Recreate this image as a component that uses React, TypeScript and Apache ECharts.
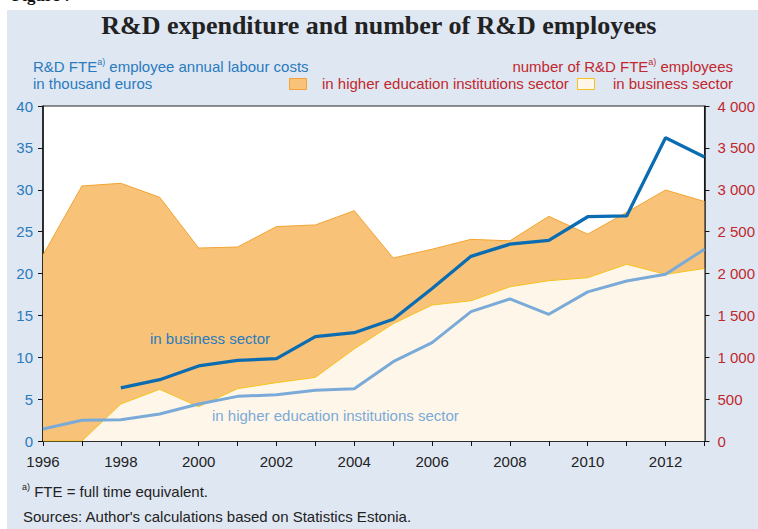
import React, { useEffect, useRef } from 'react';
import * as echarts from 'echarts';

const years = ['1996', '1997', '1998', '1999', '2000', '2001', '2002', '2003', '2004', '2005', '2006', '2007', '2008', '2009', '2010', '2011', '2012', '2013'];
// number of R&D FTE employees (right axis)
const businessEmployees = [0, 0, 442, 617, 410, 625, 697, 760, 1100, 1400, 1624, 1675, 1842, 1914, 1950, 2110, 1990, 2060];
const higherEdEmployees = [2220, 3045, 2635, 2293, 1894, 1691, 1863, 1820, 1650, 785, 666, 733, 548, 769, 520, 620, 1007, 800];
// annual labour costs, thousand euros (left axis)
const businessCosts = [null, null, 6.33, 7.32, 8.96, 9.63, 9.83, 12.46, 12.93, 14.53, 18.2, 22.05, 23.5, 23.96, 26.78, 26.87, 36.2, 33.9];
const higherEdCosts = [1.43, 2.47, 2.55, 3.22, 4.42, 5.33, 5.53, 6.05, 6.25, 9.47, 11.74, 15.44, 16.96, 15.13, 17.8, 19.1, 19.9, 22.9];

const BLUE = '#2a7bbd';
const DARKBLUE = '#0b6cb2';
const LIGHTBLUE = '#7aaad8';
const RED = '#c1272d';
const ORANGE_FILL = '#f8c378';
const ORANGE_LINE = '#f4a330';
const CREAM_FILL = '#fef6e9';
const YELLOW_LINE = '#f6c31a';
const PANEL = '#dfe7f3';
const SANS = '"Liberation Sans", Arial, sans-serif';
const SERIF = '"Liberation Serif", "Times New Roman", serif';
const FS = 15;

export default function App() {
  const ref = useRef<HTMLDivElement>(null);
  useEffect(() => {
    if (!ref.current) return;
    const chart = echarts.init(ref.current, null, { renderer: 'svg' });
    const sup = (color: string) => ({
      n: { fontSize: FS, fontFamily: SANS, fill: color, lineHeight: 17, verticalAlign: 'bottom' },
      s: { fontSize: 9, fontFamily: SANS, fill: color, lineHeight: 17, verticalAlign: 'top' },
    });
    chart.setOption({
      animation: false,
      backgroundColor: 'transparent',
      grid: { left: 43, right: 45, top: 106, bottom: 88, show: true, backgroundColor: '#ffffff', borderColor: '#222', borderWidth: 1 },
      xAxis: {
        type: 'category',
        data: years,
        boundaryGap: false,
        axisLine: { lineStyle: { color: '#111', width: 1.5 } },
        axisTick: { interval: 0, length: 5, lineStyle: { color: '#111' } },
        axisLabel: { interval: 1, color: '#222', fontSize: FS, fontFamily: SANS, margin: 13 },
        splitLine: { show: false },
      },
      yAxis: [
        {
          type: 'value', min: 0, max: 40, interval: 5, position: 'left',
          axisLine: { show: true, lineStyle: { color: '#111', width: 1.5 } },
          axisTick: { show: true, length: 5, lineStyle: { color: '#111' } },
          axisLabel: { color: BLUE, fontSize: FS, fontFamily: SANS, margin: 10 },
          splitLine: { show: false },
        },
        {
          type: 'value', min: 0, max: 4000, interval: 500, position: 'right',
          axisLine: { show: true, lineStyle: { color: '#111', width: 1.5 } },
          axisTick: { show: true, length: 5, lineStyle: { color: '#111' } },
          axisLabel: {
            color: RED, fontSize: FS, fontFamily: SANS, margin: 13,
            formatter: (v: number) => String(v).replace(/\B(?=(\d{3})+(?!\d))/g, ' '),
          },
          splitLine: { show: false },
        },
      ],
      series: [
        {
          name: 'in business sector', type: 'line', yAxisIndex: 1, stack: 'emp', data: businessEmployees,
          symbol: 'none', lineStyle: { color: YELLOW_LINE, width: 1 }, areaStyle: { color: CREAM_FILL, opacity: 1 }, z: 1,
        },
        {
          name: 'in higher education institutions sector', type: 'line', yAxisIndex: 1, stack: 'emp', data: higherEdEmployees,
          symbol: 'none', lineStyle: { color: ORANGE_LINE, width: 1 }, areaStyle: { color: ORANGE_FILL, opacity: 1 }, z: 1,
        },
        {
          name: 'labour costs higher education', type: 'line', yAxisIndex: 0, data: higherEdCosts,
          symbol: 'none', lineStyle: { color: LIGHTBLUE, width: 3 }, z: 3,
        },
        {
          name: 'labour costs business', type: 'line', yAxisIndex: 0, data: businessCosts,
          symbol: 'none', lineStyle: { color: DARKBLUE, width: 3.3 }, z: 4,
        },
      ],
      graphic: [
        { type: 'text', left: 'center', top: 12, style: { text: 'R&D expenditure and number of R&D employees', font: `bold 26px ${SERIF}`, fill: '#222' } },
        { type: 'text', x: 33, y: 57, style: { text: '{n|R&D FTE}{s|a)}{n| employee annual labour costs}', rich: sup(BLUE) } },
        { type: 'text', x: 33, y: 76, style: { text: 'in thousand euros', font: `${FS}px ${SANS}`, fill: BLUE } },
        { type: 'text', x: 733, y: 57, style: { text: '{n|number of R&D FTE}{s|a)}{n| employees}', align: 'right', rich: sup(RED) } },
        { type: 'rect', shape: { x: 289.5, y: 78.5, width: 17, height: 11 }, style: { fill: ORANGE_FILL, stroke: ORANGE_LINE, lineWidth: 1 } },
        { type: 'text', x: 322, y: 76, style: { text: 'in higher education institutions sector', font: `${FS}px ${SANS}`, fill: RED } },
        { type: 'rect', shape: { x: 577.5, y: 78.5, width: 17, height: 11 }, style: { fill: CREAM_FILL, stroke: YELLOW_LINE, lineWidth: 1 } },
        { type: 'text', x: 733, y: 76, style: { text: 'in business sector', font: `${FS}px ${SANS}`, fill: RED, align: 'right' } },
        { type: 'text', x: 150, y: 331, z: 10, style: { text: 'in business sector', font: `${FS}px ${SANS}`, fill: BLUE } },
        { type: 'text', x: 212, y: 408, z: 10, style: { text: 'in higher education institutions sector', font: `${FS}px ${SANS}`, fill: LIGHTBLUE } },
        { type: 'text', x: 22, y: 482, style: { text: '{s|a)}{n| FTE = full time equivalent.}', rich: sup('#222') } },
        { type: 'text', x: 23, y: 509, style: { text: "Sources: Author's calculations based on Statistics Estonia.", font: `${FS}px ${SANS}`, fill: '#222' } },
      ],
    });
    return () => chart.dispose();
  }, []);
  return (
    <div style={{ position: 'fixed', left: 0, top: 0, width: 758, height: 529, background: '#fff', overflow: 'hidden' }}>
      <div style={{ position: 'absolute', left: 12, top: -14, font: `bold 17px ${SERIF}`, color: '#111' }}>Figure 7</div>
      <div style={{ position: 'absolute', left: 7, top: 10, width: 751, height: 519, background: PANEL }} />
      <div ref={ref} style={{ position: 'absolute', left: 0, top: 0, width: 758, height: 529 }} />
    </div>
  );
}
